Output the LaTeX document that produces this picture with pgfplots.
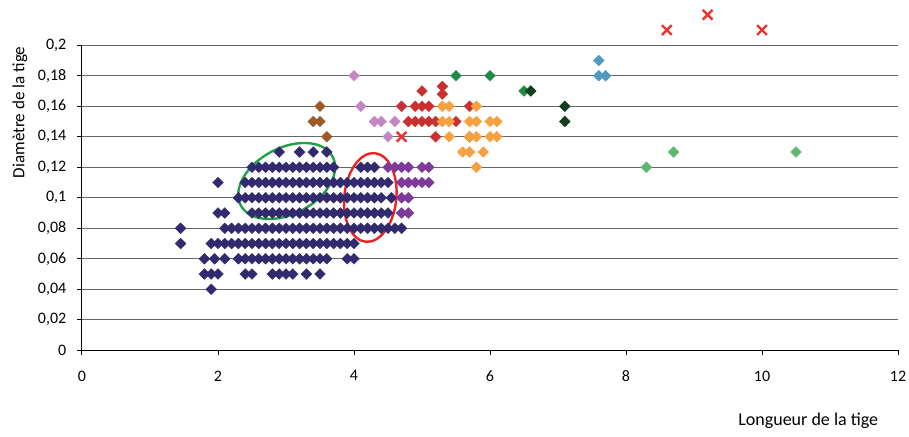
\documentclass[border=0pt]{standalone}
\usepackage{fontspec}
\setmainfont{Carlito}
\usepackage{pgfplots}
\pgfplotsset{compat=1.18}
\definecolor{cnavy}{HTML}{322A6E}
\definecolor{cpurple}{HTML}{7D3A98}
\definecolor{cbrown}{HTML}{9A5A2A}
\definecolor{cpink}{HTML}{C584C2}
\definecolor{cred}{HTML}{C9302F}
\definecolor{corange}{HTML}{F7A040}
\definecolor{cgreen}{HTML}{1F8A45}
\definecolor{cdkgreen}{HTML}{133D1C}
\definecolor{cteal}{HTML}{4F9BC0}
\definecolor{cltgreen}{HTML}{5CB96E}
\definecolor{cx}{HTML}{EE3333}
\definecolor{cellg}{HTML}{21A045}
\definecolor{cellr}{HTML}{EE2222}
\pgfplotsset{dia/.style={only marks, mark=square*, mark size=2.9pt, mark options={rotate=45, draw=#1, fill=#1, line width=0.2pt}}}
\begin{document}
\begin{tikzpicture}
\useasboundingbox (-61.5pt,-64.3pt) rectangle (620.25pt,262.7pt);
\begin{axis}[at={(0,0)}, anchor=south west, scale only axis,
  width=612pt, height=228.75pt,
  xmin=0, xmax=12, ymin=0, ymax=0.2,
  xtick={0,2,4,6,8,10,12},
  ytick={0,0.02,0.04,0.06,0.08,0.1,0.12,0.14,0.16,0.18,0.2},
  axis x line=bottom, axis y line=left,
  axis line style={-, line width=0.75pt},
  tick align=outside, major tick length=3.75pt,
  tick style={black, line width=0.75pt},
  ymajorgrids, grid style={black!60, line width=0.75pt},
  /pgf/number format/assume math mode=true,
  ticklabel style={font=\fontsize{12}{14}\selectfont},
  xticklabel style={yshift=-8pt},
  yticklabel style={xshift=-4.5pt, /pgf/number format/.cd, fixed, use comma, precision=2},
  xlabel={Longueur de la tige}, ylabel={Diamètre de la tige},
  xlabel style={at={(axis description cs:0.89,-0.232)}, anchor=center, font=\fontsize{13.5}{15}\selectfont},
  ylabel style={at={(axis description cs:-0.076,0.78)}, anchor=center, font=\fontsize{12.8}{15}\selectfont},
  clip=false]
% navy
\addplot[dia=cnavy] coordinates {
(1.9,0.04)
(1.8,0.05)(1.9,0.05)(2.0,0.05)(2.4,0.05)(2.5,0.05)(2.8,0.05)(2.9,0.05)(3.0,0.05)(3.1,0.05)(3.3,0.05)(3.5,0.05)
(1.8,0.06)(1.95,0.06)(2.1,0.06)(2.3,0.06)(2.4,0.06)(2.5,0.06)(2.6,0.06)(2.7,0.06)(2.8,0.06)(2.9,0.06)(3.0,0.06)(3.1,0.06)(3.2,0.06)(3.3,0.06)(3.4,0.06)(3.5,0.06)(3.6,0.06)(3.9,0.06)(4.0,0.06)
(1.45,0.07)(1.9,0.07)(2.0,0.07)(2.1,0.07)(2.2,0.07)(2.3,0.07)(2.4,0.07)(2.5,0.07)(2.6,0.07)(2.7,0.07)(2.8,0.07)(2.9,0.07)(3.0,0.07)(3.1,0.07)(3.2,0.07)(3.3,0.07)(3.4,0.07)(3.5,0.07)(3.6,0.07)(3.7,0.07)(3.8,0.07)(3.9,0.07)(4.0,0.07)
(1.45,0.08)(2.1,0.08)(2.2,0.08)(2.3,0.08)(2.4,0.08)(2.5,0.08)(2.6,0.08)(2.7,0.08)(2.8,0.08)(2.9,0.08)(3.0,0.08)(3.1,0.08)(3.2,0.08)(3.3,0.08)(3.4,0.08)(3.5,0.08)(3.6,0.08)(3.7,0.08)(3.8,0.08)(3.9,0.08)(4.0,0.08)(4.1,0.08)(4.2,0.08)(4.3,0.08)(4.4,0.08)(4.5,0.08)(4.6,0.08)(4.7,0.08)
(2.0,0.09)(2.1,0.09)(2.5,0.09)(2.6,0.09)(2.7,0.09)(2.8,0.09)(2.9,0.09)(3.0,0.09)(3.1,0.09)(3.2,0.09)(3.3,0.09)(3.4,0.09)(3.5,0.09)(3.6,0.09)(3.7,0.09)(3.8,0.09)(3.9,0.09)(4.0,0.09)(4.1,0.09)(4.2,0.09)(4.3,0.09)(4.4,0.09)(4.5,0.09)
(2.3,0.10)(2.4,0.10)(2.5,0.10)(2.6,0.10)(2.7,0.10)(2.8,0.10)(2.9,0.10)(3.0,0.10)(3.1,0.10)(3.2,0.10)(3.3,0.10)(3.4,0.10)(3.5,0.10)(3.6,0.10)(3.7,0.10)(3.8,0.10)(3.9,0.10)(4.0,0.10)(4.1,0.10)(4.2,0.10)(4.3,0.10)(4.4,0.10)(4.55,0.10)
(2.0,0.11)(2.4,0.11)(2.5,0.11)(2.6,0.11)(2.7,0.11)(2.8,0.11)(2.9,0.11)(3.0,0.11)(3.1,0.11)(3.2,0.11)(3.3,0.11)(3.4,0.11)(3.5,0.11)(3.6,0.11)(3.7,0.11)(3.8,0.11)(3.9,0.11)(4.0,0.11)(4.1,0.11)(4.2,0.11)(4.3,0.11)(4.4,0.11)(4.5,0.11)
(2.5,0.12)(2.6,0.12)(2.7,0.12)(2.8,0.12)(2.9,0.12)(3.0,0.12)(3.1,0.12)(3.2,0.12)(3.3,0.12)(3.4,0.12)(3.5,0.12)(3.6,0.12)(3.7,0.12)(4.1,0.12)(4.2,0.12)(4.3,0.12)
(2.9,0.13)(3.2,0.13)(3.4,0.13)(3.6,0.13)
};
% purple
\addplot[dia=cpurple] coordinates {
(4.7,0.09)(4.8,0.09)
(4.7,0.10)(4.8,0.10)
(4.7,0.11)(4.8,0.11)(4.9,0.11)(5.0,0.11)(5.1,0.11)
(4.5,0.12)(4.6,0.12)(4.7,0.12)(4.8,0.12)(5.0,0.12)(5.1,0.12)
};
% brown
\addplot[dia=cbrown] coordinates {(3.6,0.14)(3.4,0.15)(3.5,0.15)(3.5,0.16)};
% pink
\addplot[dia=cpink] coordinates {(4.0,0.18)(4.1,0.16)(4.3,0.15)(4.4,0.15)(4.6,0.15)(4.5,0.14)};
% red
\addplot[dia=cred] coordinates {
(5.2,0.14)(5.7,0.14)
(4.8,0.15)(4.9,0.15)(5.0,0.15)(5.1,0.15)(5.2,0.15)(5.5,0.15)
(4.7,0.16)(4.9,0.16)(5.0,0.16)(5.1,0.16)(5.7,0.16)
(5.0,0.17)(5.3,0.168)(5.3,0.173)
};
% orange
\addplot[dia=corange] coordinates {
(5.8,0.12)
(5.6,0.13)(5.7,0.13)(5.9,0.13)
(5.4,0.14)(5.7,0.14)(5.8,0.14)(6.0,0.14)(6.1,0.14)
(5.3,0.15)(5.4,0.15)(5.7,0.15)(5.8,0.15)(6.0,0.15)(6.1,0.15)
(5.3,0.16)(5.4,0.16)(5.8,0.16)
};
% green
\addplot[dia=cgreen] coordinates {(5.5,0.18)(6.0,0.18)(6.5,0.17)};
% dark green
\addplot[dia=cdkgreen] coordinates {(6.6,0.17)(7.1,0.16)(7.1,0.15)};
% teal
\addplot[dia=cteal] coordinates {(7.6,0.19)(7.6,0.18)(7.7,0.18)};
% light green
\addplot[dia=cltgreen] coordinates {(8.3,0.12)(8.7,0.13)(10.5,0.13)};
% red crosses
\addplot[only marks, mark=x, mark size=5.2pt, mark options={draw=cx, line width=1.8pt}] coordinates {(4.7,0.14)(8.6,0.21)(9.2,0.22)(10.0,0.21)};
% ellipses
\draw[cellg, line width=1.8pt, rotate around={28:(axis cs:3.01,0.111)}] (axis cs:3.01,0.111) ellipse [x radius=39pt, y radius=24.75pt];
\draw[cellr, line width=1.8pt, rotate around={-6:(axis cs:4.24,0.1002)}] (axis cs:4.24,0.1002) ellipse [x radius=19.5pt, y radius=33.4pt];
\end{axis}
\end{tikzpicture}
\end{document}
